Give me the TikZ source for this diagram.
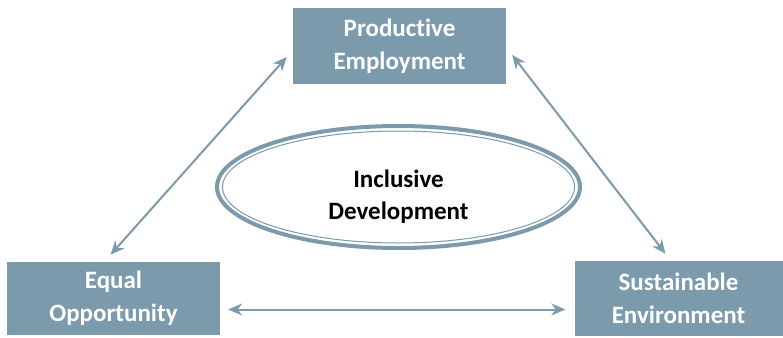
\documentclass[tikz,border=0pt]{standalone}
\usepackage{fontspec}
\setmainfont{Carlito}[Ligatures={NoCommon,NoRare}]
\usetikzlibrary{arrows.meta}
\definecolor{slate}{RGB}{123,154,171}

\begin{document}
\begin{tikzpicture}[x=1pt,y=-1pt,
		goal/.style={rectangle,fill=slate,text=white,minimum width=213pt,
			align=center,font=\fontsize{25}{33}\selectfont\bfseries},
		link/.style={{Stealth[length=14pt,width=12pt]}-{Stealth[length=14pt,width=12pt]},
			draw=slate,line width=2pt}]

		\useasboundingbox (0,0) rectangle (783,337);

		% the three pillars
		\node[goal, minimum height=76pt] (pe) at (399.5,46) {Productive\\Employment};
		\node[goal, minimum height=73pt] (eq) at (113.5,298.5) {Equal\\Opportunity};
		\node[goal, minimum width=208pt, minimum height=75pt] (su) at (678.5,298.5) {Sustainable\\Environment};

		% centre ring
		\draw[slate, line width=4pt] (398.5,187) ellipse (181.5 and 61);
		\draw[slate, line width=1pt] (398.5,187) ellipse (176 and 56);
		\node[align=center, font=\fontsize{25}{32}\selectfont\bfseries] (id) at (398.5,197) {Inclusive\\Development};

		\draw[link] ([yshift=-11pt]pe.west) ++(-6,0) -- ([xshift=-3pt,yshift=7pt]eq.north);
		\draw[link] ([yshift=-9pt]pe.east) ++(6,0) -- ([xshift=-13pt,yshift=7pt]su.north);
		\draw[link] ([xshift=8pt,yshift=-11pt]eq.east) -- ([xshift=-9pt,yshift=-11pt]su.west);
\end{tikzpicture}
\end{document}
